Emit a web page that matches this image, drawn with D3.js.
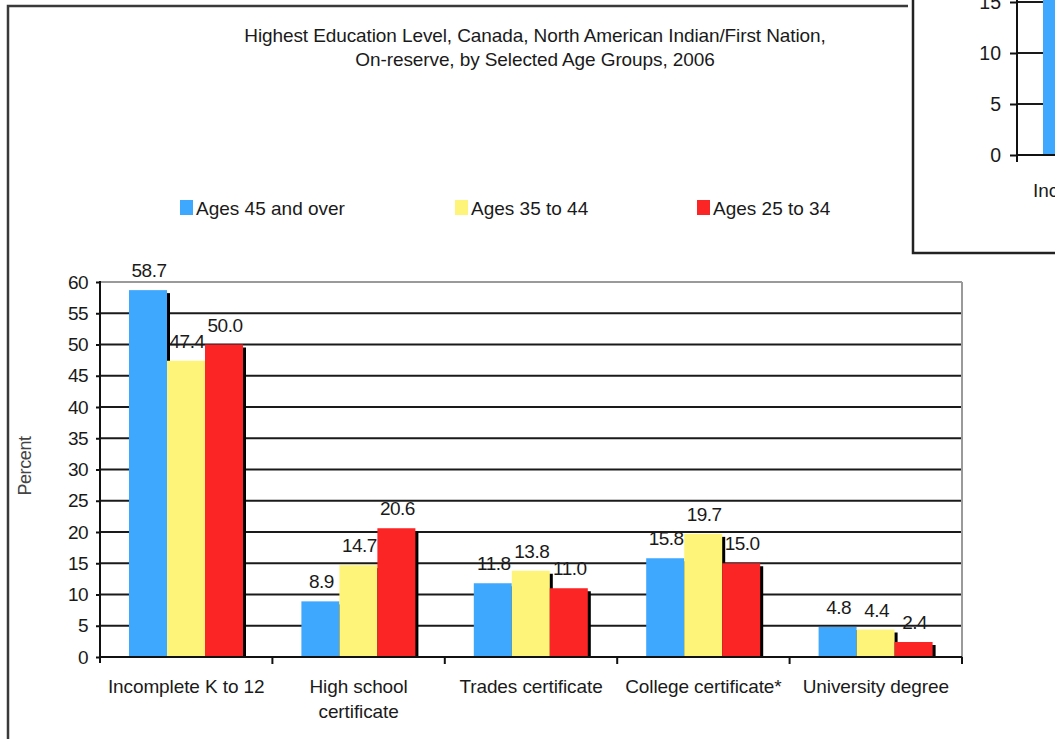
<!DOCTYPE html>
<html>
<head>
<meta charset="utf-8">
<script src="https://cdn.jsdelivr.net/npm/d3@7"></script>
<style>
  html, body { margin: 0; padding: 0; background: #fff; }
  svg { display: block; }
  text { font-family: "Liberation Sans", Arial, sans-serif; fill: #1a1a1a; }
</style>
</head>
<body>
<script>
const width = 1055, height = 739;

// chart data
const categories = ["Incomplete K to 12", "High school certificate", "Trades certificate", "College certificate*", "University degree"];
const series = ["Ages 45 and over", "Ages 35 to 44", "Ages 25 to 34"];
const ages45 = [58.7, 8.9, 11.8, 15.8, 4.8];
const ages35 = [47.4, 14.7, 13.8, 19.7, 4.4];
const ages25 = [50.0, 20.6, 11.0, 15.0, 2.4];
const yTicks = [0, 5, 10, 15, 20, 25, 30, 35, 40, 45, 50, 55, 60];
const titleLines = ["Highest Education Level, Canada, North American Indian/First Nation,", "On-reserve, by Selected Age Groups, 2006"];
const insetTicks = [0, 5, 10, 15];

const colors = ["#3ea8ff", "#fff47a", "#fb2525"];
const values = [ages45, ages35, ages25];

const svg = d3.select("body").append("svg")
    .attr("width", width)
    .attr("height", height);

// outer frame of the page window
svg.append("path")
    .attr("d", "M8,739V6H908")
    .attr("fill", "none")
    .attr("stroke", "#3a3a3a")
    .attr("stroke-width", 2.5);

// title
svg.append("g").selectAll("text")
    .data(titleLines)
    .join("text")
    .attr("x", 535)
    .attr("y", (d, i) => 42 + i * 24)
    .attr("text-anchor", "middle")
    .style("font-size", "19px")
    .style("letter-spacing", "-0.1px")
    .text(d => d);

// legend
const legendX = [180, 455, 697];
const legend = svg.append("g").selectAll("g")
    .data(series)
    .join("g")
    .attr("transform", (d, i) => `translate(${legendX[i]},0)`);
legend.append("rect")
    .attr("x", 0).attr("y", 200)
    .attr("width", 13).attr("height", 15)
    .attr("fill", (d, i) => colors[i]);
legend.append("text")
    .attr("x", 16).attr("y", 215)
    .style("font-size", "19px")
    .text(d => d);

// scales
const plot = {left: 100, right: 962, top: 282, bottom: 657};
const y = d3.scaleLinear().domain([0, 60]).range([plot.bottom, plot.top]);
const x0 = d3.scaleBand().domain(categories).range([plot.left, plot.right]);
const x1 = d3.scaleBand().domain(series).range([29, 143]);

// gridlines
svg.append("g")
    .selectAll("line")
    .data(yTicks.filter(d => d > 0))
    .join("line")
    .attr("x1", plot.left).attr("x2", plot.right)
    .attr("y1", d => y(d)).attr("y2", d => y(d))
    .attr("stroke", d => d === 60 ? "#9a9a9a" : "#1a1a1a")
    .attr("stroke-width", 2);
svg.append("line")
    .attr("x1", plot.right).attr("x2", plot.right)
    .attr("y1", plot.top).attr("y2", plot.bottom)
    .attr("stroke", "#9a9a9a").attr("stroke-width", 2);

// y axis
const yAxis = svg.append("g")
    .attr("transform", `translate(${plot.left},0)`)
    .call(d3.axisLeft(y).tickValues(yTicks).tickSize(4).tickPadding(8));
yAxis.select(".domain").attr("d", `M0,${plot.top - 1}V${plot.bottom + 6}`).attr("stroke", "#111").attr("stroke-width", 2);
yAxis.selectAll(".tick line").attr("stroke", "#111").attr("stroke-width", 2);
yAxis.selectAll(".tick text")
    .style("font-size", "19px")
    .style("font-family", "'Liberation Sans', Arial, sans-serif")
    .style("letter-spacing", "-0.6px")
    .attr("fill", "#1a1a1a");

svg.append("text")
    .attr("transform", "translate(31,466) rotate(-90)")
    .attr("text-anchor", "middle")
    .style("font-size", "18px")
    .style("fill", "#444")
    .style("letter-spacing", "-0.4px")
    .text("Percent");

// bars with drop shadow
const groups = svg.append("g").selectAll("g")
    .data(categories)
    .join("g")
    .attr("transform", d => `translate(${x0(d)},0)`);

groups.each(function (cat, ci) {
    const g = d3.select(this);
    series.forEach((s, si) => {
        const v = values[si][ci];
        const bx = x1(s), bw = x1.bandwidth(), top = y(v);
        g.append("rect")
            .attr("x", bx + 3).attr("y", top + 3)
            .attr("width", bw).attr("height", Math.max(0, plot.bottom - top - 3))
            .attr("fill", "#000");
        g.append("rect")
            .attr("x", bx).attr("y", top)
            .attr("width", bw).attr("height", plot.bottom - top)
            .attr("fill", colors[si]);
    });
});

// value labels on top
groups.each(function (cat, ci) {
    const g = d3.select(this);
    series.forEach((s, si) => {
        const v = values[si][ci];
        g.append("text")
            .attr("x", x1(s) + x1.bandwidth() / 2 + 1)
            .attr("y", y(v) - 13)
            .attr("text-anchor", "middle")
            .style("font-size", "19px")
            .style("letter-spacing", "-0.5px")
            .text(v.toFixed(1));
    });
});

// x axis
svg.append("line")
    .attr("x1", plot.left).attr("x2", plot.right)
    .attr("y1", plot.bottom).attr("y2", plot.bottom)
    .attr("stroke", "#111").attr("stroke-width", 2);
svg.append("g").selectAll("line")
    .data(categories.slice(1).concat(["end"]))
    .join("line")
    .attr("x1", (d, i) => plot.left + x0.bandwidth() * (i + 1))
    .attr("x2", (d, i) => plot.left + x0.bandwidth() * (i + 1))
    .attr("y1", plot.bottom).attr("y2", plot.bottom + 7)
    .attr("stroke", "#111").attr("stroke-width", 2);

const catLines = {"High school certificate": ["High school", "certificate"]};
svg.append("g").selectAll("text")
    .data(categories)
    .join("text")
    .attr("x", d => x0(d) + x0.bandwidth() / 2)
    .attr("y", 693)
    .attr("text-anchor", "middle")
    .style("font-size", "19px")
    .style("letter-spacing", "-0.1px")
    .each(function (d) {
        const lines = catLines[d] || [d];
        d3.select(this).selectAll("tspan")
            .data(lines)
            .join("tspan")
            .attr("x", x0(d) + x0.bandwidth() / 2)
            .attr("dy", (l, i) => i === 0 ? 0 : 25)
            .text(l => l);
    });

// overlapping window with another chart fragment (top right)
const inset = svg.append("g");
inset.append("clipPath").attr("id", "insetClip")
    .append("rect").attr("x", 914).attr("y", 0).attr("width", 141).attr("height", 252);
inset.append("rect")
    .attr("x", 913).attr("y", -5)
    .attr("width", 160).attr("height", 258)
    .attr("fill", "#fff")
    .attr("stroke", "#222").attr("stroke-width", 2.5);

const iy = d3.scaleLinear().domain([0, 15]).range([155, 2]);
const ix = d3.scaleBand().domain(categories).range([1017, 1017 + 190 * categories.length]);
const ic = inset.append("g").attr("clip-path", "url(#insetClip)");

ic.append("g").selectAll("line")
    .data(insetTicks.filter(d => d > 0))
    .join("line")
    .attr("x1", 1017).attr("x2", 1060)
    .attr("y1", d => iy(d)).attr("y2", d => iy(d))
    .attr("stroke", "#1a1a1a").attr("stroke-width", 2);

ic.append("rect")
    .attr("x", ix(categories[0]) + 26)
    .attr("y", iy(Math.min(ages45[0], 16)))
    .attr("width", x1.bandwidth())
    .attr("height", iy(0) - iy(Math.min(ages45[0], 16)))
    .attr("fill", colors[0]);

const iAxis = ic.append("g")
    .attr("transform", "translate(1017,0)")
    .call(d3.axisLeft(iy).tickValues(insetTicks).tickSize(7).tickPadding(9));
iAxis.select(".domain").attr("d", "M0,-5V162").attr("stroke", "#111").attr("stroke-width", 2);
iAxis.selectAll(".tick line").attr("stroke", "#111").attr("stroke-width", 2);
iAxis.selectAll(".tick text")
    .style("font-size", "19.5px")
    .style("font-family", "'Liberation Sans', Arial, sans-serif")
    .attr("fill", "#1a1a1a");

ic.append("line")
    .attr("x1", 1017).attr("x2", 1060)
    .attr("y1", iy(0)).attr("y2", iy(0))
    .attr("stroke", "#111").attr("stroke-width", 2);

ic.append("text")
    .attr("x", 1033)
    .attr("y", 197)
    .style("font-size", "19px")
    .text(categories[0]);
</script>
</body>
</html>
